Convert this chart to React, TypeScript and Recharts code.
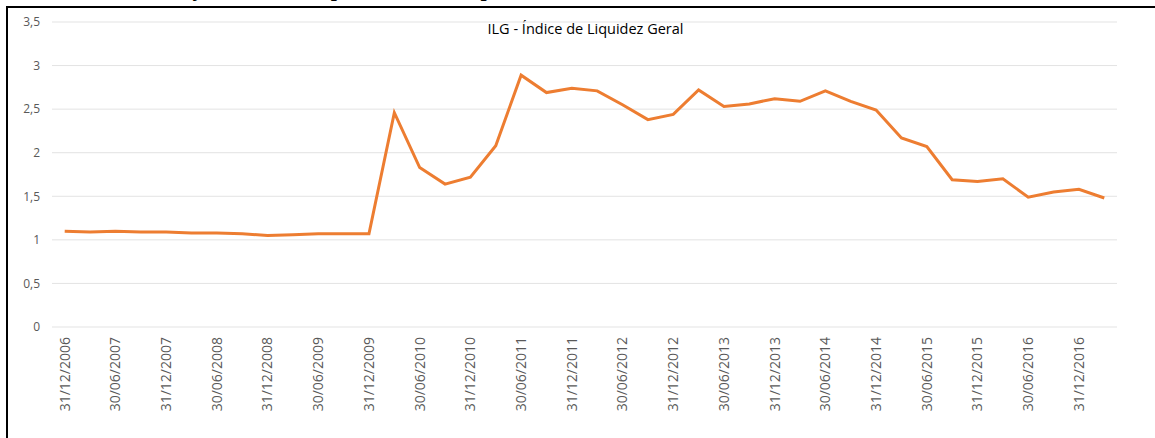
import React from "react";
import { LineChart, Line, XAxis, YAxis, CartesianGrid } from "recharts";

const dates = [
  "31/12/2006", "31/03/2007", "30/06/2007", "30/09/2007",
  "31/12/2007", "31/03/2008", "30/06/2008", "30/09/2008",
  "31/12/2008", "31/03/2009", "30/06/2009", "30/09/2009",
  "31/12/2009", "31/03/2010", "30/06/2010", "30/09/2010",
  "31/12/2010", "31/03/2011", "30/06/2011", "30/09/2011",
  "31/12/2011", "31/03/2012", "30/06/2012", "30/09/2012",
  "31/12/2012", "31/03/2013", "30/06/2013", "30/09/2013",
  "31/12/2013", "31/03/2014", "30/06/2014", "30/09/2014",
  "31/12/2014", "31/03/2015", "30/06/2015", "30/09/2015",
  "31/12/2015", "31/03/2016", "30/06/2016", "30/09/2016",
  "31/12/2016", "31/03/2017",
];

const ilg = [
  1.1, 1.09, 1.1, 1.09, 1.09, 1.08, 1.08, 1.07, 1.05, 1.06, 1.07, 1.07,
  1.07, 2.46, 1.83, 1.64, 1.72, 2.08, 2.89, 2.69, 2.74, 2.71, 2.55, 2.38,
  2.44, 2.72, 2.53, 2.56, 2.62, 2.59, 2.71, 2.59, 2.49, 2.17, 2.07, 1.69,
  1.67, 1.7, 1.49, 1.55, 1.58, 1.48,
];

const yTicks = [0, 0.5, 1, 1.5, 2, 2.5, 3, 3.5];

const data = dates.map((d, i) => ({ date: d, ilg: ilg[i] }));

const FONT = "'Open Sans', sans-serif";

const DateTick = ({ x, y, payload }: { x?: number; y?: number; payload?: { value: string } }) => {
  if (x == null || y == null || !payload) return null;
  return (
    <text
      x={x}
      y={y}
      transform={`rotate(-90 ${x} ${y})`}
      textAnchor="end"
      dy="0.35em"
      fill="#595959"
      fontSize={14}
      fontFamily={FONT}
    >
      {payload.value}
    </text>
  );
};

export default function App() {
  return (
    <div
      style={{
        position: "absolute",
        left: 0,
        top: 0,
        width: 1155,
        height: 438,
        overflow: "hidden",
        background: "#fff",
      }}
    >
      {/* page caption above the frame, mostly cut off in the reference */}
      <div
        style={{
          position: "absolute",
          left: 10,
          top: -23,
          whiteSpace: "nowrap",
          fontFamily: "'Liberation Serif', serif",
          fontWeight: "bold",
          fontSize: 22,
          wordSpacing: 6,
          lineHeight: "24px",
        }}
      >
        Gráfico 1 - Evolução do ILG apresentado no período de 2006 a 2017
      </div>
      <div
        style={{
          position: "absolute",
          left: 6,
          top: 6,
          width: 1200,
          height: 500,
          border: "2px solid #000",
          boxSizing: "border-box",
        }}
      />
      <div
        style={{
          position: "absolute",
          left: 0,
          top: 20,
          width: 1171,
          textAlign: "center",
          fontFamily: FONT,
          fontSize: 14.5,
          color: "#000",
          lineHeight: "18px",
        }}
      >
        ILG - Índice de Liquidez Geral
      </div>
      <div style={{ position: "absolute", left: 0, top: 0 }}>
        <LineChart
          width={1155}
          height={438}
          data={data}
          margin={{ top: 22, right: 38, left: 0, bottom: 0 }}
        >
          <CartesianGrid vertical={false} stroke="#e3e3e3" strokeWidth={1} />
          <XAxis
            dataKey="date"
            interval={1}
            axisLine={false}
            tickLine={false}
            tickSize={0}
            tickMargin={10}
            height={111}
            padding={{ left: 12.7, right: 12.7 }}
            tick={<DateTick />}
          />
          <YAxis
            domain={[0, 3.5]}
            ticks={yTicks}
            width={52}
            axisLine={false}
            tickLine={false}
            tickSize={0}
            tickMargin={12}
            tick={{ fill: "#595959", fontSize: 12, fontFamily: FONT }}
            tickFormatter={(v: number) => String(v).replace(".", ",")}
          />
          <Line
            type="linear"
            dataKey="ilg"
            stroke="#ED7D31"
            strokeWidth={3}
            dot={false}
            isAnimationActive={false}
          />
        </LineChart>
      </div>
    </div>
  );
}
